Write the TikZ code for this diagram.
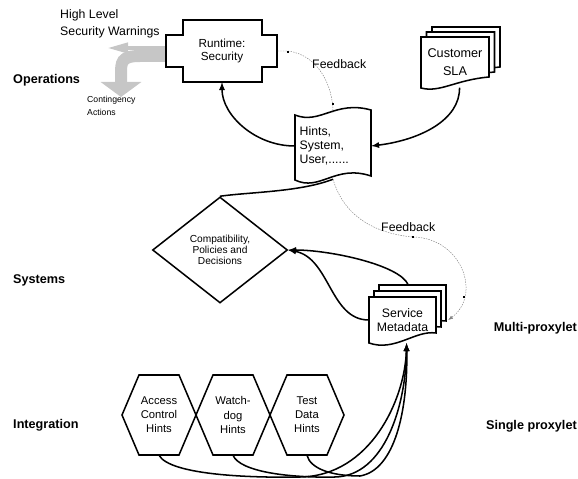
\documentclass[tikz,border=0pt]{standalone}
\usepackage{fontspec}
\setmainfont{Liberation Sans}
\usetikzlibrary{shapes.geometric,arrows.meta}

\begin{document}
\begin{tikzpicture}[x=0.03cm, y=-0.03cm, >=latex,
  every node/.style={font=\fontsize{10.5}{12.5}\selectfont, inner sep=0pt, align=center},
  tier/.style={font=\bfseries\fontsize{10.8}{13}\selectfont},
  figline/.style={draw, line width=1.3pt, fill=white},
  wire/.style={line width=1.3pt, ->},
  feedback/.style={gray, thin, dash pattern=on 1.2pt off 1pt},
  warn/.style={gray!45}]

  \useasboundingbox (0,0) rectangle (578,479);

  \node[tier, anchor=west] (ops) at (13,80) {Operations};
  \node[tier, anchor=west] (sys) at (13,280) {Systems};
  \node[tier, anchor=west] (integ) at (13,425) {Integration};
  \node[tier, anchor=east] (multi) at (577,328) {Multi-proxylet};
  \node[tier, anchor=east] (single) at (577,426) {Single proxylet};

  \node[minimum width=3.33cm, minimum height=1.86cm, font=\fontsize{10}{11}\selectfont] (runtime) at (222,51) {};
  \coordinate (warnend) at (107,48);
  \coordinate (actend) at (121,97);
  \draw[warn, line width=0.12cm, -{Triangle[length=0.63cm, width=0.3cm]}] ([yshift=0.09cm]runtime.west) -- (warnend);
  \draw[warn, line width=0.36cm, -{Triangle[length=0.45cm, width=1.2cm]}] ([yshift=-0.15cm]runtime.west) -- (140,56) .. controls (121,56) and (121,62) .. (121,75) -- (actend);

  \draw[figline] (183,20) -- (262,20) -- (262,35) -- (277,35) -- (277,67) -- (262,67) -- (262,82)
    -- (183,82) -- (183,67) -- (166,67) -- (166,35) -- (183,35) -- cycle;
  \node[font=\fontsize{10}{11}\selectfont] at (runtime) {Runtime:\\Security};

  \node[anchor=west, align=left, font=\fontsize{10.5}{15}\selectfont] (warnings) at (60,24) {High Level\\Security Warnings};
  \node[anchor=west, align=left, font=\fontsize{7.4}{11}\selectfont] (actions) at (87,106) {Contingency\\Actions};

  % customer SLA, three sheets
  \foreach \d in {2,1,0}
    \draw[figline, shift={(\d*5.5,-\d*5)}] (421,37) -- (489,37) -- (489,77) .. controls (455,80) and (440,93) .. (421,88) -- cycle;
  \node[minimum width=2.04cm, minimum height=1.53cm, font=\fontsize{10.8}{15}\selectfont] (sla) at (455,62) {Customer\\SLA};

  % hints tape
  \draw[figline] (295,115) .. controls (320,125) and (335,100) .. (371,110) -- (371,176)
    .. controls (335,164) and (320,192) .. (295,180) -- cycle;
  \node[minimum width=2.28cm, minimum height=1.98cm, text width=2cm, align=left, font=\fontsize{10.5}{12}\selectfont] (hints) at (333,146) {Hints,\\System,\\User,......};

  \node[diamond, figline, minimum width=4.05cm, minimum height=3.18cm, font=\fontsize{8.7}{9.6}\selectfont] (policy) at (220,250) {Compatibility,\\Policies and\\Decisions};

  % service metadata, three sheets
  \foreach \d in {2,1,0}
    \draw[figline, shift={(\d*5,-\d*6)}] (369,297) -- (436,297) -- (436,333) .. controls (415,330) and (395,352) .. (369,343) -- cycle;
  \node[minimum width=2.01cm, minimum height=1.38cm] (meta) at (402.5,320) {Service\\Metadata};

  \foreach \n/\x/\t in {access/159/{Access\\Control\\Hints}, watchdog/233/{Watch-\\dog\\Hints}, testdata/307/{Test\\Data\\Hints}} {
    \draw[figline] (\x,415) ++(-37,0) -- ++(17,-40) -- ++(40,0) -- ++(17,40) -- ++(-17,40) -- ++(-40,0) -- cycle;
    \node[minimum width=2.22cm, minimum height=2.4cm, font=\fontsize{9.6}{12}\selectfont] (\n) at (\x,415) {\t};
  }

  % feedback loops
  \draw[feedback] (runtime.east) -- (288,51) .. controls (318,55) and (333,85) .. (hints.north);
  \fill (288,52) ++(-1.2,-1.2) rectangle ++(2.4,2.4);
  \fill (333,104) ++(-1.2,-1.2) rectangle ++(2.4,2.4);
  \node[anchor=west] (fb1) at (312,64) {Feedback};

  \draw[feedback, -{Latex[length=4pt, width=3pt]}] (hints.south) .. controls (345,220) and (380,234) .. (413,237)
    .. controls (462,238) and (482,295) .. ([xshift=0.36cm]meta.east);
  \fill (413,237) ++(-1.2,-1.2) rectangle ++(2.4,2.4);
  \fill (464,297) ++(-1.2,-1.2) rectangle ++(2.4,2.4);
  \node[anchor=west] (fb2) at (381,227) {Feedback};

  % connectors
  \draw[wire] (hints.west) .. controls (255,146) and (222,115) .. (runtime.south);
  \draw[wire] (sla.-80) .. controls (460,120) and (420,140) .. (hints.east);
  \draw[line width=1.3pt] (policy.north) .. controls (250,192) and (300,192) .. (hints.south);
  \draw[wire] ([xshift=0.17cm, yshift=0.36cm]meta.north) .. controls (400,265) and (330,250) .. (policy.east);
  \draw[wire] (meta.west) .. controls (330,320) and (330,258) .. (policy.east);

  \draw[wire] (access.south) .. controls (170,475) and (250,478) .. (300,477) .. controls (370,476) and (405,400) .. (meta.-80);
  \draw[wire] (watchdog.south) .. controls (240,472) and (290,478) .. (335,477) .. controls (385,476) and (406,405) .. (meta.-80);
  \draw[wire] (testdata.south) .. controls (310,468) and (330,476) .. (360,476) .. controls (395,470) and (408,410) .. (meta.-80);

\end{tikzpicture}
\end{document}
